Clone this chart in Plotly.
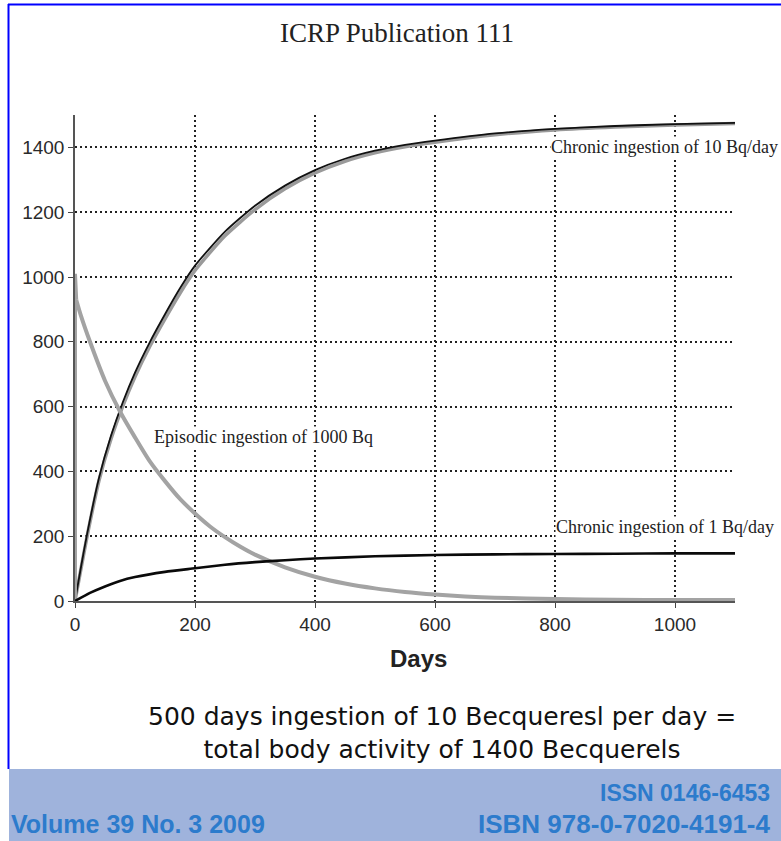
import plotly.graph_objects as go

# ---- data ----
days_c10 = [0, 10, 20, 40, 60, 80, 100, 125, 150, 175, 200, 250, 300, 350, 400, 450, 500, 550, 600, 700, 800, 900, 1000, 1100]
chronic10 = [0, 105, 205, 380, 510, 615, 705, 800, 885, 965, 1035, 1140, 1220, 1282, 1330, 1365, 1390, 1408, 1421, 1443, 1457, 1466, 1472, 1476]
chronic10_model = [0, 100, 198, 372, 500, 603, 692, 787, 871, 950, 1020, 1127, 1208, 1272, 1321, 1357, 1383, 1402, 1416, 1439, 1454, 1463, 1469, 1474]

days_spike = [0, 0, 2]
spike = [0, 1010, 930]

days_ep = [2, 10, 25, 50, 75, 100, 125, 150, 175, 200, 225, 250, 275, 300, 350, 400, 450, 500, 550, 600, 650, 700, 800, 900, 1000, 1100]
episodic = [930, 880, 800, 680, 585, 505, 430, 370, 315, 270, 230, 197, 168, 143, 104, 75, 54, 39, 28, 20, 14, 10, 6, 4, 3, 3]

days_c1 = [0, 25, 50, 75, 100, 150, 200, 250, 300, 350, 400, 500, 600, 700, 800, 900, 1000, 1100]
chronic1 = [0, 25, 45, 62, 74, 90, 101, 112, 120, 126, 131, 138, 142, 144, 145, 146, 147, 147]

x_ticks = [0, 200, 400, 600, 800, 1000]
y_ticks = [0, 200, 400, 600, 800, 1000, 1200, 1400]

fig = go.Figure()
fig.add_trace(go.Scatter(x=days_c10, y=chronic10_model, mode="lines",
                         line=dict(color="#9a9a9a", width=3.5, shape="spline", smoothing=0.6),
                         hoverinfo="skip", showlegend=False))
fig.add_trace(go.Scatter(x=days_c10, y=chronic10, mode="lines",
                         line=dict(color="#111111", width=1.8, shape="spline", smoothing=0.6),
                         showlegend=False))
fig.add_trace(go.Scatter(x=days_spike, y=spike, mode="lines",
                         line=dict(color="#a3a3a3", width=4),
                         hoverinfo="skip", showlegend=False))
fig.add_trace(go.Scatter(x=days_ep, y=episodic, mode="lines",
                         line=dict(color="#a3a3a3", width=4, shape="spline", smoothing=0.7),
                         showlegend=False))
fig.add_trace(go.Scatter(x=days_c1, y=chronic1, mode="lines",
                         line=dict(color="#0a0a0a", width=2.6, shape="spline", smoothing=0.6),
                         showlegend=False))

L, R, T, B = 75, 46, 115, 240
W, H = 781, 841
pw, ph = W - L - R, H - T - B

def px(xp):
    return (xp - L) / pw

def py(yp):
    return (H - B - yp) / ph

grid = dict(showgrid=True, gridcolor="#222222", gridwidth=1.5, griddash="2px,3px")
tickfont = dict(family="Liberation Sans, Arial", size=19, color="#2a2a2a")

fig.update_layout(
    width=W, height=H,
    margin=dict(l=L, r=R, t=T, b=B),
    paper_bgcolor="white", plot_bgcolor="white",
    xaxis=dict(range=[0, 1100], tickvals=x_ticks, ticks="outside", ticklen=5,
               tickcolor="#444", showline=True, linecolor="#555", linewidth=1.5,
               zeroline=False, tickfont=tickfont, **grid),
    yaxis=dict(range=[0, 1500], tickvals=y_ticks, ticks="outside", ticklen=5,
               tickcolor="#444", showline=True, linecolor="#555", linewidth=1.5,
               zeroline=False, tickfont=tickfont, **grid),
)

serif = "Liberation Serif, Times New Roman"
sans = "Liberation Sans, Arial"
blue = "#2c7bcc"
ann = [
    dict(text="ICRP Publication 111", x=px(397), y=py(33), font=dict(family=serif, size=27, color="#222")),
    dict(text="Chronic ingestion of 10 Bq/day", x=792, y=1400, xref="x", yref="y", xanchor="left",
         font=dict(family=serif, size=18, color="#222"), bgcolor="white"),
    dict(text="Chronic ingestion of 1 Bq/day", x=800, y=228, xref="x", yref="y", xanchor="left",
         font=dict(family=serif, size=18, color="#222"), bgcolor="white"),
    dict(text="Episodic ingestion of 1000 Bq", x=130, y=505, xref="x", yref="y", xanchor="left",
         font=dict(family=serif, size=18, color="#222"), bgcolor="white"),
    dict(text="<b>Days</b>", x=px(418), y=py(658), font=dict(family=sans, size=24, color="#222")),
    dict(text="500 days ingestion of 10 Becqueresl per day =<br>total body activity of 1400 Becquerels",
         x=px(442), y=py(733), align="center",
         font=dict(family="DejaVu Sans, Liberation Sans", size=25, color="#111")),
    dict(text="<b>ISSN 0146-6453</b>", x=px(771), y=py(793), xanchor="right",
         font=dict(family=sans, size=23, color=blue)),
    dict(text="<b>ISBN 978-0-7020-4191-4</b>", x=px(771), y=py(824), xanchor="right",
         font=dict(family=sans, size=26, color=blue)),
    dict(text="<b>Volume 39 No. 3 2009</b>", x=px(10), y=py(824), xanchor="left",
         font=dict(family=sans, size=25, color=blue)),
]
for a in ann:
    a.setdefault("xref", "paper")
    a.setdefault("yref", "paper")
    a.setdefault("xanchor", "center")
    a.setdefault("yanchor", "middle")
    a["showarrow"] = False
    a["borderpad"] = 0
fig.update_layout(annotations=ann)

fig.update_layout(shapes=[
    dict(type="rect", xref="paper", yref="paper", x0=px(9), x1=px(781), y0=py(769), y1=py(841),
         fillcolor="#9fb3dc", line=dict(width=0), layer="below"),
    dict(type="line", xref="paper", yref="paper", x0=px(8.5), x1=px(8.5), y0=py(4), y1=py(769),
         line=dict(color="#0000ff", width=2)),
    dict(type="line", xref="paper", yref="paper", x0=px(8), x1=px(781), y0=py(4.5), y1=py(4.5),
         line=dict(color="#0000ff", width=2)),
])

fig.write_html("out.html")
